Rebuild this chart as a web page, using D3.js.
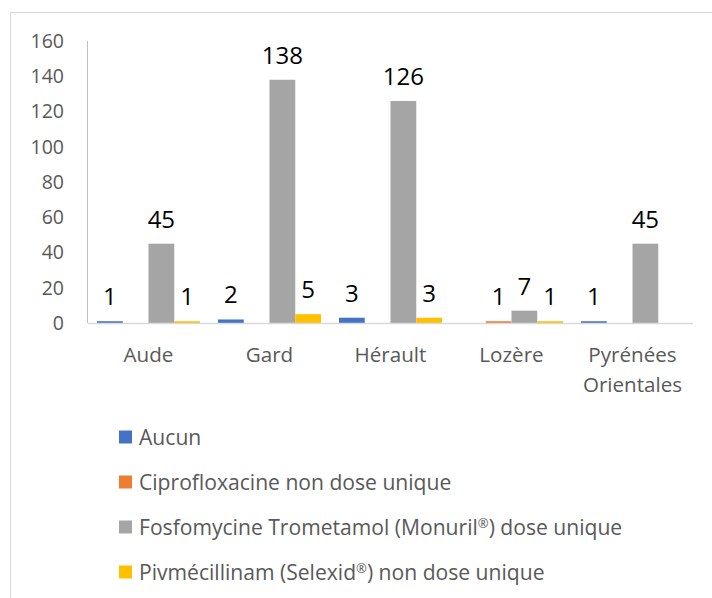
<!DOCTYPE html>
<html>
<head>
<meta charset="utf-8">
<script src="https://cdn.jsdelivr.net/npm/d3@7"></script>
<style>
  html, body { margin: 0; padding: 0; background: #fff; }
  svg { display: block; font-family: "Open Sans", sans-serif; }
</style>
</head>
<body>
<div id="chart"></div>
<script>
const categories = ["Aude", "Gard", "Hérault", "Lozère", "Pyrénées Orientales"];
const categoryLines = [["Aude"], ["Gard"], ["Hérault"], ["Lozère"], ["Pyrénées", "Orientales"]];
const seriesNames = [
  "Aucun",
  "Ciprofloxacine non dose unique",
  "Fosfomycine Trometamol (Monuril®) dose unique",
  "Pivmécillinam (Selexid®) non dose unique"
];
const aucun = [1, 2, 3, null, 1];
const ciprofloxacine = [null, null, null, 1, null];
const fosfomycine = [45, 138, 126, 7, 45];
const pivmecillinam = [1, 5, 3, 1, null];
const seriesValues = [aucun, ciprofloxacine, fosfomycine, pivmecillinam];
const colors = ["#4472C4", "#ED7D31", "#A5A5A5", "#FFC000"];
const yTicks = [0, 20, 40, 60, 80, 100, 120, 140, 160];

const W = 712, H = 598;
const svg = d3.select("#chart").append("svg").attr("width", W).attr("height", H);

// outer frame
svg.append("rect").attr("x", 10.5).attr("y", 12.5).attr("width", W + 20).attr("height", H + 20)
  .attr("fill", "none").attr("stroke", "#D9D9D9").attr("stroke-width", 1);

const plot = { left: 88, right: 693, top: 41, bottom: 323 };
const x0 = d3.scaleBand().domain(categories).range([plot.left, plot.right]).paddingInner(0).paddingOuter(0);
const x1 = d3.scaleBand().domain(seriesNames).range([9, x0.bandwidth() - 9]).padding(0);
const y = d3.scaleLinear().domain([0, 160]).range([plot.bottom, plot.top]);

// y axis labels
const yAxis = d3.axisLeft(y).tickValues(yTicks).tickSize(0).tickPadding(24);
const ya = svg.append("g").attr("transform", `translate(${plot.left},0)`).call(yAxis);
ya.select(".domain").remove();
ya.selectAll("text").attr("fill", "#595959").style("font-size", "19.5px").style("font-family", "Open Sans");

// vertical axis line
svg.append("line").attr("x1", plot.left - 0.5).attr("x2", plot.left - 0.5)
  .attr("y1", plot.top).attr("y2", plot.bottom).attr("stroke", "#BFBFBF").attr("stroke-width", 1);

// bars
const data = [];
categories.forEach((c, i) => {
  seriesNames.forEach((s, j) => {
    const v = seriesValues[j][i];
    if (v !== null) data.push({ c, s, v, j });
  });
});
const g = svg.append("g");
g.selectAll("rect.bar").data(data).enter().append("rect")
  .attr("class", "bar")
  .attr("x", d => x0(d.c) + x1(d.s))
  .attr("width", x1.bandwidth())
  .attr("y", d => y(d.v))
  .attr("height", d => y(0) - y(d.v))
  .attr("fill", d => colors[d.j]);

// baseline
svg.append("line").attr("x1", plot.left).attr("x2", plot.right)
  .attr("y1", plot.bottom + 0.5).attr("y2", plot.bottom + 0.5).attr("stroke", "#D9D9D9").attr("stroke-width", 1.5);

// data labels
g.selectAll("text.lbl").data(data).enter().append("text")
  .attr("class", "lbl")
  .attr("x", d => x0(d.c) + x1(d.s) + x1.bandwidth() / 2)
  .attr("y", d => y(d.v) - 16)
  .attr("text-anchor", "middle")
  .attr("fill", "#000")
  .style("font-size", "24px")
  .text(d => d.v);

// category labels
const xl = svg.append("g");
categories.forEach((c, i) => {
  const t = xl.append("text")
    .attr("x", x0(c) + x0.bandwidth() / 2)
    .attr("y", 362)
    .attr("text-anchor", "middle")
    .attr("fill", "#595959")
    .style("font-size", "20.6px");
  categoryLines[i].forEach((line, k) => {
    t.append("tspan").attr("x", x0(c) + x0.bandwidth() / 2).attr("dy", k === 0 ? 0 : 30).text(line);
  });
});

// legend (® drawn as a small raised glyph, as in the reference)
const legY = d3.scalePoint().domain(seriesNames).range([437, 572]);
const leg = svg.append("g");
seriesNames.forEach((s, j) => {
  leg.append("rect").attr("x", 119).attr("y", legY(s) - 6.5).attr("width", 13).attr("height", 13).attr("fill", colors[j]);
  const t = leg.append("text").attr("x", 139).attr("y", legY(s) + 7.5)
    .attr("fill", "#595959").style("font-size", "21.1px");
  const parts = s.split("®");
  parts.forEach((p, k) => {
    if (k > 0) {
      t.append("tspan").attr("dy", -7).style("font-size", "13px").text("®");
      t.append("tspan").attr("dy", 7).text(p);
    } else {
      t.append("tspan").text(p);
    }
  });
});
</script>
</body>
</html>
